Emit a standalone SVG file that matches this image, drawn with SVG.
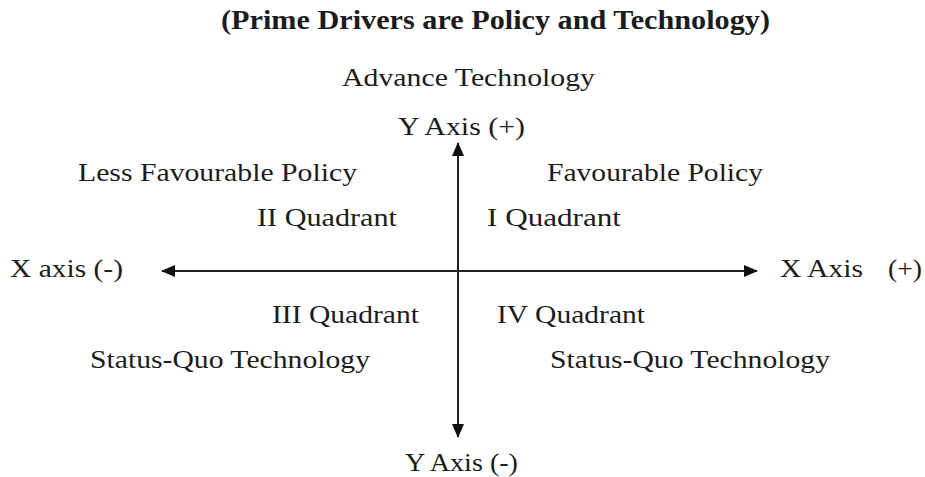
<svg xmlns="http://www.w3.org/2000/svg" width="925" height="477" viewBox="0 0 925 477">
<style>
text{font-family:"Liberation Serif","Times New Roman",serif;font-size:26px;fill:#1c1c1c}
.title{font-weight:bold;font-size:27px}
.axis{stroke:#222;stroke-width:2;fill:none}
</style>
<defs>
<marker id="arr" markerUnits="userSpaceOnUse" markerWidth="14" markerHeight="12" refX="13" refY="6" orient="auto">
<path d="M0,0 L14,6 L0,12 z" fill="#111"/>
</marker>
</defs>
<rect width="925" height="477" fill="#fff"/>
<text class="title" x="221" y="29" textLength="549" lengthAdjust="spacingAndGlyphs">(Prime Drivers are Policy and Technology)</text>
<g id="connectors">
<line class="axis" x1="458" y1="271" x2="162" y2="271" marker-end="url(#arr)"/>
<line class="axis" x1="458" y1="271" x2="757" y2="271" marker-end="url(#arr)"/>
<line class="axis" x1="458" y1="271" x2="458" y2="143" marker-end="url(#arr)"/>
<line class="axis" x1="458" y1="271" x2="458" y2="437" marker-end="url(#arr)"/>
</g>
<g id="y-pos">
<text x="342" y="86" textLength="253" lengthAdjust="spacingAndGlyphs">Advance Technology</text>
<text x="398" y="135" textLength="127" lengthAdjust="spacingAndGlyphs">Y Axis (+)</text>
</g>
<g id="quadrant-2">
<text x="78" y="181" textLength="279" lengthAdjust="spacingAndGlyphs">Less Favourable Policy</text>
<text x="257" y="226" textLength="140" lengthAdjust="spacingAndGlyphs">II Quadrant</text>
</g>
<g id="quadrant-1">
<text x="547" y="181" textLength="216" lengthAdjust="spacingAndGlyphs">Favourable Policy</text>
<text x="487" y="226" textLength="134" lengthAdjust="spacingAndGlyphs">I Quadrant</text>
</g>
<g id="x-neg">
<text x="10" y="277" textLength="113" lengthAdjust="spacingAndGlyphs">X axis (-)</text>
</g>
<g id="x-pos">
<text y="277"><tspan x="780" textLength="83" lengthAdjust="spacingAndGlyphs">X Axis</tspan><tspan x="888" textLength="34" lengthAdjust="spacingAndGlyphs">(+)</tspan></text>
</g>
<g id="quadrant-3">
<text x="272" y="323" textLength="147" lengthAdjust="spacingAndGlyphs">III Quadrant</text>
<text x="90" y="368" textLength="280" lengthAdjust="spacingAndGlyphs">Status-Quo Technology</text>
</g>
<g id="quadrant-4">
<text x="497" y="323" textLength="148" lengthAdjust="spacingAndGlyphs">IV Quadrant</text>
<text x="550" y="368" textLength="280" lengthAdjust="spacingAndGlyphs">Status-Quo Technology</text>
</g>
<g id="y-neg">
<text x="405" y="471" textLength="113" lengthAdjust="spacingAndGlyphs">Y Axis (-)</text>
</g>
</svg>
